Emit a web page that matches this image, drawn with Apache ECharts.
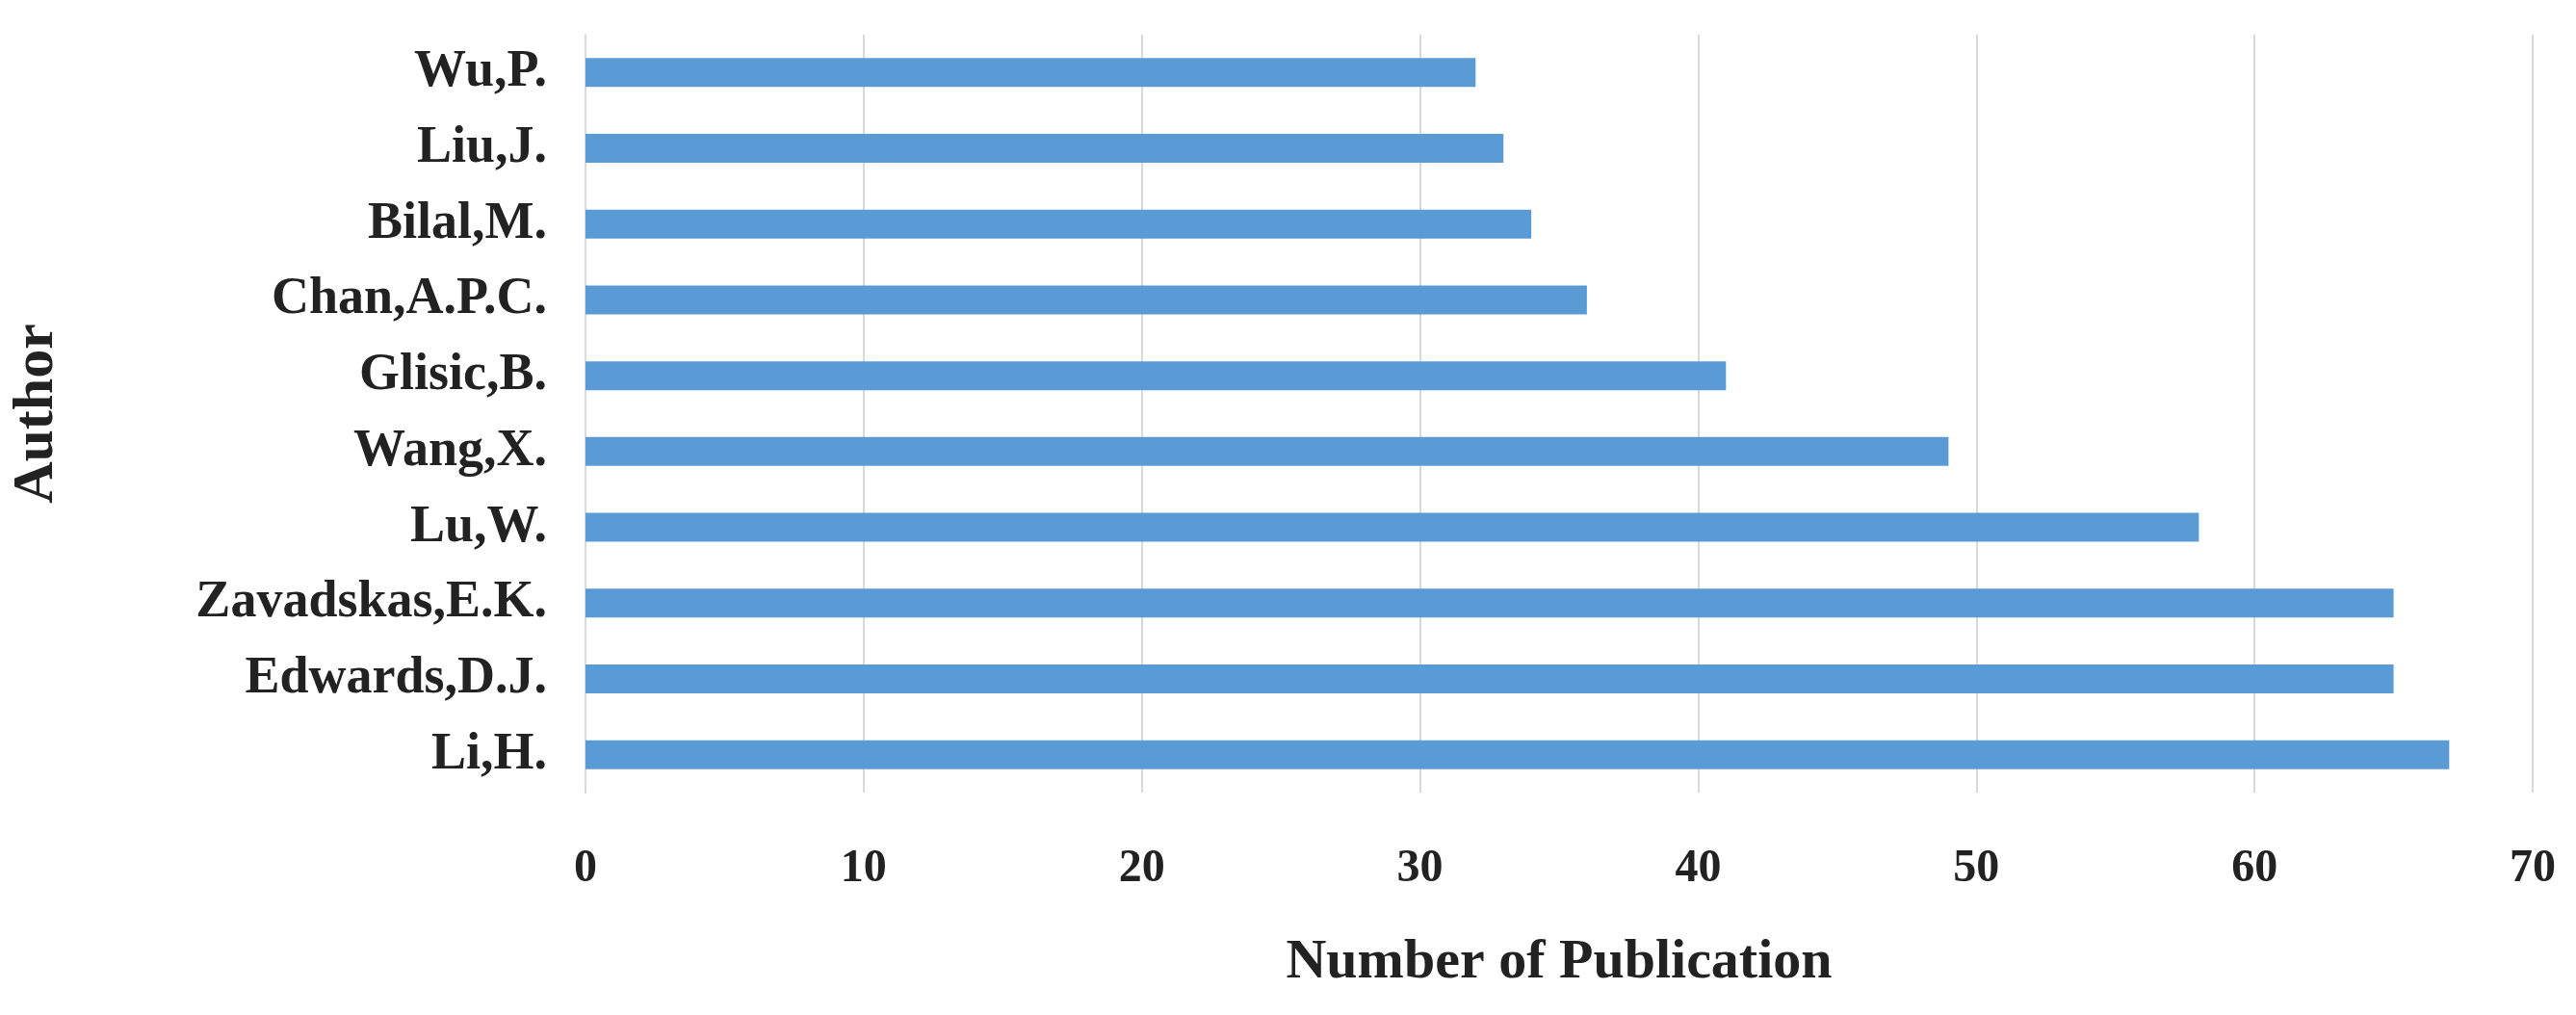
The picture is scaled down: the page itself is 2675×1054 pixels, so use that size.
<!DOCTYPE html>
<html>
<head>
<meta charset="utf-8">
<script src="https://cdn.jsdelivr.net/npm/echarts@6/dist/echarts.min.js"></script>
<style>html,body{margin:0;padding:0;background:#fff}#chart{width:2675px;height:1054px}</style>
</head>
<body>
<div id="chart"></div>
<script>
// authors listed bottom to top
var authors = ['Li,H.', 'Edwards,D.J.', 'Zavadskas,E.K.', 'Lu,W.', 'Wang,X.', 'Glisic,B.', 'Chan,A.P.C.', 'Bilal,M.', 'Liu,J.', 'Wu,P.']
var publications = [67, 65, 65, 58, 49, 41, 36, 34, 33, 32]

var font = 'Liberation Serif'
var chart = echarts.init(document.getElementById('chart'))
chart.setOption({
  grid: { left: 588, right: 45, top: 36, bottom: 231 },
  xAxis: {
    type: 'value', min: 0, max: 70, interval: 10,
    name: 'Number of Publication', nameLocation: 'middle', nameGap: 148,
    nameTextStyle: { fontFamily: font, fontWeight: 'bold', fontSize: 58, color: '#222' },
    axisLine: { show: false }, axisTick: { show: false },
    axisLabel: { fontFamily: font, fontWeight: 'bold', fontSize: 48, color: '#222', margin: 56 },
    splitLine: { lineStyle: { color: '#d9d9d9', width: 2 } }
  },
  yAxis: {
    type: 'category', data: authors,
    name: 'Author', nameLocation: 'middle', nameGap: 540, nameRotate: 90,
    nameTextStyle: { fontFamily: font, fontWeight: 'bold', fontSize: 60, color: '#222' },
    axisLine: { lineStyle: { color: '#d9d9d9', width: 2 } }, axisTick: { show: false },
    axisLabel: { fontFamily: font, fontWeight: 'bold', fontSize: 54, color: '#222', margin: 40 }
  },
  series: [{
    type: 'bar', data: publications, barWidth: 30,
    itemStyle: { color: '#5b9bd5' }
  }]
})
</script>
</body>
</html>
